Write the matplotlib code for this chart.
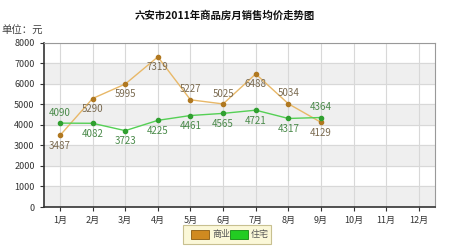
import matplotlib.pyplot as plt
from matplotlib.patches import Rectangle

plt.rcParams['font.family'] = ['Noto Sans CJK SC', 'DejaVu Sans']

months = ["1月", "2月", "3月", "4月", "5月", "6月", "7月", "8月", "9月", "10月", "11月", "12月"]
shangye = [3487, 5290, 5995, 7319, 5227, 5025, 6488, 5034, 4129]
zhuzhai = [4090, 4082, 3723, 4225, 4461, 4565, 4721, 4317, 4364]
# label above (+1) or below (-1) the point
shangye_pos = [-1, -1, -1, -1, 1, 1, -1, 1, -1]
zhuzhai_pos = [1, -1, -1, -1, -1, -1, -1, -1, 1]

fig = plt.figure(figsize=(4.5, 2.46), dpi=100)
ax = fig.add_axes([0.097, 0.1585, 0.87, 0.667])

for lo in [0, 2000, 4000, 6000]:
    ax.axhspan(lo, lo + 1000, color="#efefef", zorder=0)

x = list(range(len(months)))
ax.set_xlim(-0.5, len(months) - 0.5)
ax.set_ylim(0, 8000)
ax.set_yticks(range(0, 8001, 1000))
ax.set_xticks(x)
ax.set_xticklabels(months)
ax.grid(True, color="#d8d8d8", linewidth=0.8, zorder=1)
ax.set_axisbelow(True)

ax.plot(x[:len(shangye)], shangye, color="#e8b868", linewidth=1, marker="o",
        markersize=3, markerfacecolor="#b07820", markeredgecolor="#b07820", zorder=3)
ax.plot(x[:len(zhuzhai)], zhuzhai, color="#55d055", linewidth=1, marker="o",
        markersize=3, markerfacecolor="#30a030", markeredgecolor="#30a030", zorder=3)

for i, (v, p) in enumerate(zip(shangye, shangye_pos)):
    ax.annotate(str(v), (i, v), xytext=(0, 7.5 * p), textcoords="offset points",
                ha="center", va="center", fontsize=7, color="#7a6a50", zorder=4)
for i, (v, p) in enumerate(zip(zhuzhai, zhuzhai_pos)):
    ax.annotate(str(v), (i, v), xytext=(0, 7.5 * p), textcoords="offset points",
                ha="center", va="center", fontsize=7, color="#4a8a4a", zorder=4)

ax.tick_params(axis="both", labelsize=6.5, colors="#333333", length=3, width=0.8)
for s in ["top", "right"]:
    ax.spines[s].set_color("#999999")
    ax.spines[s].set_linewidth(0.8)
for s in ["left", "bottom"]:
    ax.spines[s].set_color("#333333")
    ax.spines[s].set_linewidth(1.2)

fig.text(0.5, 0.935, "六安市2011年商品房月销售均价走势图", ha="center", va="center",
         fontsize=7.5, fontweight="bold", color="#111111")
fig.text(0.003, 0.875, "单位：元", ha="left", va="center", fontsize=7.5, color="#444444")

# legend box
fig.patches.append(Rectangle((0.407, 0.01), 0.195, 0.075, transform=fig.transFigure,
                             facecolor="#fbf8d8", edgecolor="#c8c090", linewidth=0.8))
fig.patches.append(Rectangle((0.425, 0.03), 0.04, 0.035, transform=fig.transFigure,
                             facecolor="#d08a20", edgecolor="#8a5a10", linewidth=0.6))
fig.text(0.472, 0.048, "商业", ha="left", va="center", fontsize=6.5, color="#555555")
fig.patches.append(Rectangle((0.51, 0.03), 0.04, 0.035, transform=fig.transFigure,
                             facecolor="#22cc22", edgecolor="#118811", linewidth=0.6))
fig.text(0.557, 0.048, "住宅", ha="left", va="center", fontsize=6.5, color="#555555")

fig.savefig("out.png", dpi=100)
